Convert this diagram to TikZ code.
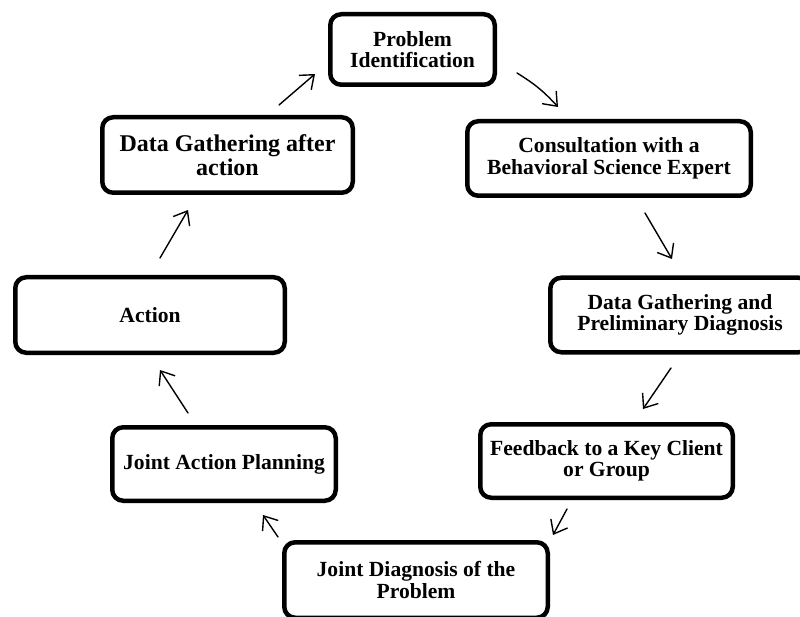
\documentclass[tikz,border=0pt]{standalone}
\usepackage{fontspec}
\setmainfont{Liberation Serif}
\usetikzlibrary{arrows.meta}
\begin{document}
\begin{tikzpicture}[x=1pt,y=-1pt,
  stage/.style={draw, line width=4.5pt, rounded corners=11pt, align=center,
    inner sep=0pt, font=\bfseries\fontsize{21.6}{21.6}\selectfont},
  bigstage/.style={stage, font=\bfseries\fontsize{24}{24}\selectfont},
  flow/.style={line width=1.4pt, line cap=round,
    -{Straight Barb[length=12pt,width=19pt,line width=1.4pt]}}]
\clip (0,0) rectangle (800,617);
% stages of the cycle
\node[stage, minimum width=164.5pt, minimum height=70.5pt] (ident) at (412.5,49.5) {Problem\\Identification};
\node[stage, minimum width=283.5pt, minimum height=74.5pt] (consult) at (609,158.5) {Consultation with a\\Behavioral Science Expert};
\node[stage, minimum width=259.5pt, minimum height=74.5pt] (prelim) at (680,315) {Data Gathering and\\Preliminary Diagnosis};
\node[stage, minimum width=252.5pt, minimum height=73.5pt] (feedback) at (606.5,461) {Feedback to a Key Client\\or Group};
\node[stage, minimum width=263.5pt, minimum height=75.5pt] (jdiag) at (416,580) {Joint Diagnosis of the\\Problem};
\node[stage, minimum width=223.5pt, minimum height=73.5pt] (jplan) at (224,464) {Joint Action Planning};
\node[stage, minimum width=269.5pt, minimum height=75.5pt] (action) at (150,315) {Action};
\node[bigstage, minimum width=250.5pt, minimum height=75.5pt] (after) at (227.5,155) {Data Gathering after\\action};
% arrow end points between the stages
\coordinate (t1) at (279,105);  \coordinate (h1) at (315,74);
\coordinate (t2) at (517,73);   \coordinate (h2) at (558,107);
\coordinate (t3) at (645,213);  \coordinate (h3) at (672,259);
\coordinate (t4) at (671,368);  \coordinate (h4) at (643,409);
\coordinate (t5) at (567,509);  \coordinate (h5) at (553,535);
\coordinate (t6) at (278,537);  \coordinate (h6) at (263,515);
\coordinate (t7) at (188,413);  \coordinate (h7) at (160,370);
\coordinate (t8) at (160,258);  \coordinate (h8) at (188,210);
\draw[flow] (t1) -- (h1);
\draw[flow] (t2) to[bend left=8] (h2);
\draw[flow] (t3) -- (h3);
\draw[flow] (t4) -- (h4);
\draw[flow] (t5) -- (h5);
\draw[flow] (t6) -- (h6);
\draw[flow] (t7) -- (h7);
\draw[flow] (t8) -- (h8);
\end{tikzpicture}
\end{document}
